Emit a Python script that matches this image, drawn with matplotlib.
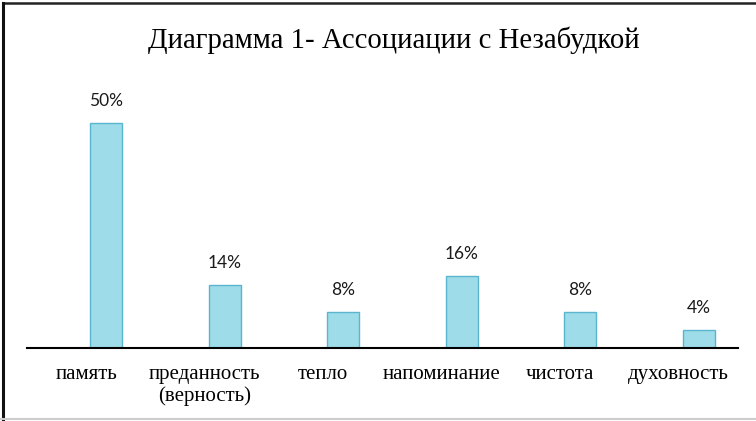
import numpy as np
import matplotlib
matplotlib.use("Agg")
from matplotlib import pyplot as plt
from matplotlib.lines import Line2D

categories = ["память", "преданность\n(верность)", "тепло", "напоминание", "чистота", "духовность"]
values = [50, 14, 8, 16, 8, 4]
labels = ["50%", "14%", "8%", "16%", "8%", "4%"]

fig = plt.figure(figsize=(7.56, 4.21), dpi=100)
ax = fig.add_axes([27 / 756, 73 / 421, 711 / 756, 270 / 421])

x = np.arange(len(categories))
bars = ax.bar(x + 0.168, values, width=0.27, color="#9edcea", edgecolor="#5ab6cf", linewidth=1)

for b, lab in zip(bars, labels):
    ax.annotate(lab, (b.get_x() + b.get_width() / 2, b.get_height()),
                xytext=(0, 16), textcoords="offset points", ha="center", va="center",
                fontsize=12.5, family=["Lato", "DejaVu Sans"], color="#1a1a1a")

ax.set_xlim(-0.5, 5.5)
ax.set_ylim(0, 60)
ax.set_xticks(x)
ax.set_xticklabels(categories, family="Liberation Serif", fontsize=15, linespacing=1.2)
ax.tick_params(axis="x", length=0, pad=12)
ax.set_yticks([])
for s in ["top", "right", "left"]:
    ax.spines[s].set_visible(False)
ax.spines["bottom"].set_linewidth(1.5)
ax.spines["bottom"].set_color("black")

fig.text(394 / 756, 1 - 40 / 421, "Диаграмма 1- Ассоциации с Незабудкой",
         ha="center", va="center", fontsize=20.7, family="Liberation Serif")

# рамка
fig.add_artist(Line2D([3 / 756, 1], [1 - 3 / 421, 1 - 3 / 421], color="#222222", lw=1.8))
fig.add_artist(Line2D([3 / 756, 3 / 756], [0, 1 - 3 / 421], color="#111111", lw=2.2))
fig.add_artist(Line2D([0, 1], [2 / 421, 2 / 421], color="#cccccc", lw=1.5))

fig.savefig("out.png", dpi=100)
